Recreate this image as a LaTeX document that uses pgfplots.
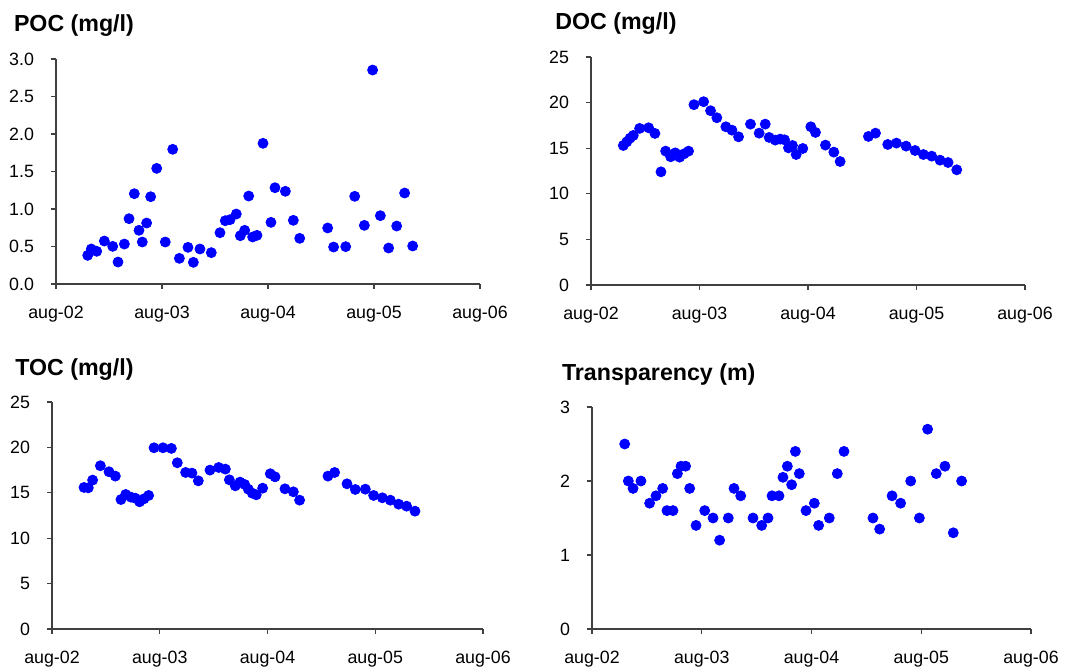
\documentclass[border=0pt]{standalone}
\usepackage{pgfplots}
\pgfplotsset{compat=1.18}
\usepackage{fontspec}
\setmainfont{Liberation Sans}

% one pixel of the reference = 0.5pt
\pgfplotsset{
  panel/.style={
    scale only axis,
    anchor=south west,
    axis x line*=bottom, axis y line*=left,
    axis line style={black!75, line width=0.6pt},
    tick style={black!75, line width=0.6pt},
    tick align=outside, major tick length=2.5pt,
    xmin=0, xmax=4, xtick={0,1,2,3,4},
    xticklabels={aug-02,aug-03,aug-04,aug-05,aug-06},
    ymin=0,
    ticklabel style={font=\fontsize{8.9}{10}\selectfont},
    xticklabel style={yshift=-5pt},
    yticklabel style={xshift=-5pt},
    /pgf/number format/assume math mode=true,
    clip=false,
  },
  dots/.style={only marks, mark=*, mark size=2.5pt, color={rgb,255:red,0;green,0;blue,255}},
}

\begin{document}
\begin{tikzpicture}
\useasboundingbox (0,0) rectangle (539pt,-335.5pt);

% POC
\begin{axis}[panel, at={(28pt,-142pt)}, width=212pt, height=112.5pt,
    ymax=3, ytick={0,0.5,...,3},
    yticklabel style={/pgf/number format/.cd, fixed, fixed zerofill, precision=1}]
\addplot[dots] table {
x y
0.299 0.382
0.333 0.467
0.384 0.436
0.456 0.573
0.535 0.502
0.585 0.293
0.645 0.533
0.689 0.871
0.739 1.204
0.783 0.716
0.814 0.560
0.855 0.813
0.893 1.164
0.950 1.542
1.031 0.560
1.101 1.796
1.164 0.342
1.245 0.489
1.296 0.289
1.358 0.467
1.465 0.418
1.547 0.684
1.597 0.844
1.642 0.858
1.701 0.933
1.739 0.644
1.780 0.716
1.818 1.173
1.855 0.627
1.896 0.649
1.953 1.876
2.028 0.822
2.066 1.284
2.164 1.236
2.239 0.849
2.299 0.609
2.563 0.747
2.619 0.493
2.733 0.498
2.818 1.169
2.909 0.782
2.987 2.853
3.060 0.911
3.138 0.480
3.214 0.773
3.289 1.213
3.365 0.507
};
\end{axis}

% DOC
\begin{axis}[panel, at={(295.5pt,-142.5pt)}, width=217pt, height=114pt,
    ymax=25, ytick={0,5,...,25}]
\addplot[dots] table {
x y
0.298 15.30
0.330 15.70
0.360 16.10
0.390 16.40
0.448 17.17
0.531 17.24
0.589 16.62
0.645 12.41
0.688 14.68
0.734 14.06
0.777 14.49
0.817 14.02
0.857 14.38
0.899 14.68
0.949 19.77
1.038 20.10
1.102 19.11
1.160 18.34
1.243 17.35
1.299 16.98
1.360 16.25
1.470 17.64
1.550 16.65
1.606 17.64
1.642 16.18
1.698 15.89
1.744 16.00
1.784 15.92
1.820 15.04
1.857 15.30
1.891 14.31
1.952 14.97
2.026 17.35
2.069 16.73
2.161 15.34
2.238 14.57
2.296 13.54
2.557 16.29
2.622 16.65
2.735 15.41
2.815 15.56
2.904 15.23
2.987 14.75
3.064 14.31
3.140 14.13
3.217 13.69
3.291 13.43
3.371 12.63
};
\end{axis}

% TOC
\begin{axis}[panel, at={(26pt,-314.5pt)}, width=215.5pt, height=113.5pt,
    ymax=25, ytick={0,5,...,25}]
\addplot[dots] table {
x y
0.297 15.59
0.337 15.55
0.377 16.40
0.449 17.98
0.529 17.32
0.588 16.84
0.640 14.26
0.684 14.82
0.733 14.52
0.773 14.41
0.813 14.01
0.854 14.34
0.897 14.71
0.947 19.96
1.030 19.96
1.108 19.89
1.163 18.31
1.240 17.24
1.299 17.17
1.358 16.32
1.466 17.50
1.547 17.79
1.609 17.61
1.646 16.43
1.701 15.77
1.745 16.18
1.788 15.92
1.822 15.40
1.859 14.96
1.896 14.78
1.955 15.51
2.026 17.10
2.070 16.76
2.162 15.44
2.240 15.11
2.298 14.19
2.561 16.84
2.623 17.24
2.738 15.99
2.815 15.37
2.908 15.40
2.985 14.71
3.066 14.45
3.140 14.19
3.217 13.75
3.291 13.53
3.369 12.98
};
\end{axis}

% Transparency
\begin{axis}[panel, at={(296pt,-314.5pt)}, width=219.5pt, height=111pt,
    ymax=3, ytick={0,1,2,3}]
\addplot[dots] table {
x y
0.298 2.50
0.331 2.00
0.374 1.90
0.446 2.00
0.525 1.70
0.583 1.80
0.644 1.90
0.683 1.60
0.738 1.60
0.778 2.10
0.811 2.20
0.853 2.20
0.890 1.90
0.948 1.40
1.027 1.60
1.103 1.50
1.163 1.20
1.242 1.50
1.294 1.90
1.355 1.80
1.467 1.50
1.546 1.40
1.604 1.50
1.640 1.80
1.704 1.80
1.740 2.05
1.780 2.20
1.819 1.95
1.853 2.40
1.889 2.10
1.950 1.60
2.026 1.70
2.065 1.40
2.162 1.50
2.235 2.10
2.296 2.40
2.560 1.50
2.621 1.35
2.734 1.80
2.812 1.70
2.904 2.00
2.983 1.50
3.058 2.70
3.137 2.10
3.216 2.20
3.292 1.30
3.368 2.00
};
\end{axis}

% panel titles
\begin{scope}[every node/.style={anchor=base west, inner sep=0pt,
    font=\fontsize{11.6}{13}\selectfont\bfseries}]
\node at (6.8pt,-15.8pt) {POC (mg/l)};
\node at (277.5pt,-14.6pt) {DOC (mg/l)};
\node at (7.5pt,-187.5pt) {TOC (mg/l)};
\node at (280.8pt,-190pt) {Transparency (m)};
\end{scope}
\end{tikzpicture}
\end{document}
